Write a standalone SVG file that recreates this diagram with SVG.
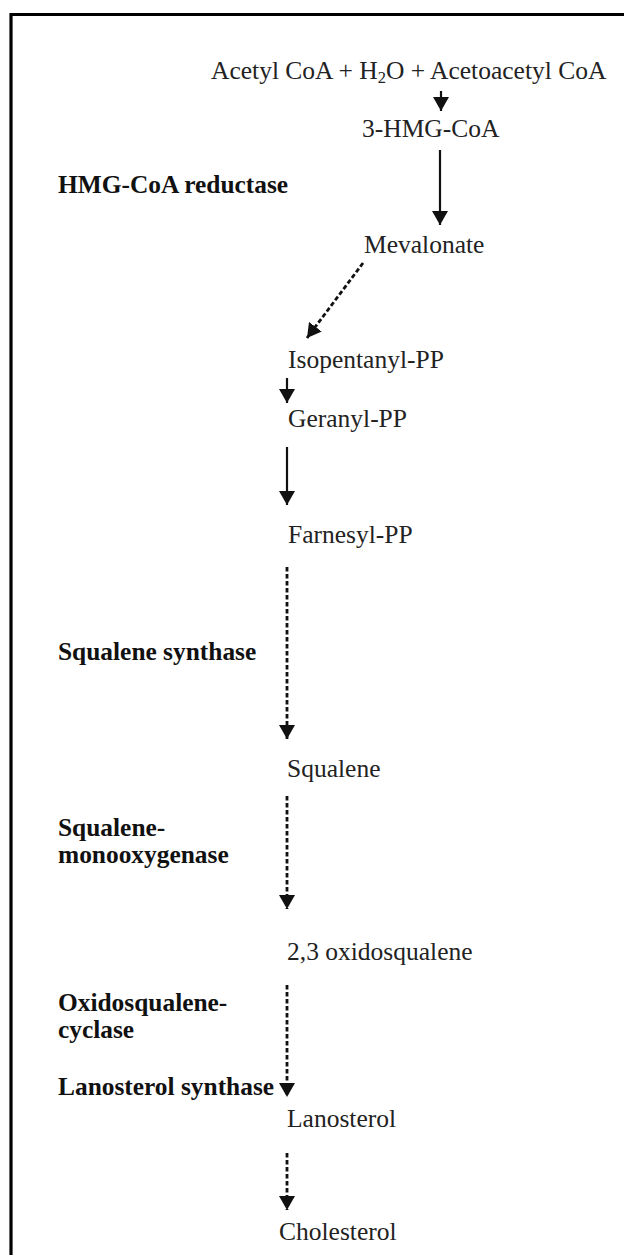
<svg xmlns="http://www.w3.org/2000/svg" width="624" height="1255" viewBox="0 0 624 1255">
<defs>
<style>
.t{font-family:"Liberation Serif","Times New Roman",serif;font-size:25.5px;fill:#222}
.b{font-family:"Liberation Serif","Times New Roman",serif;font-size:25.4px;font-weight:bold;fill:#111}
.s{stroke:#111;stroke-width:2.2;fill:none}
.d{stroke:#111;stroke-width:2.8;fill:none;stroke-dasharray:4.5 2.5}
</style>
<marker id="ah" viewBox="0 0 14 16" refX="14" refY="8" markerWidth="14" markerHeight="16" markerUnits="userSpaceOnUse" orient="auto">
<path d="M0,0 L14,8 L0,16 Z" fill="#111"/>
</marker>
</defs>
<rect x="0" y="0" width="624" height="1255" fill="#fff"/>
<path d="M11,1255 V14.5 H624" stroke="#000" stroke-width="3.2" fill="none"/>
<g id="acetyl"><text class="t" x="211" y="79">Acetyl CoA + H<tspan font-size="16.5" dy="4">2</tspan><tspan dy="-4">O + Acetoacetyl CoA</tspan></text></g>
<g id="hmgcoa"><text class="t" x="362" y="137">3-HMG-CoA</text></g>
<g id="hmgred"><text class="b" x="58" y="193">HMG-CoA reductase</text></g>
<g id="mevalonate"><text class="t" x="364" y="253">Mevalonate</text></g>
<g id="isopentanyl"><text class="t" x="288" y="368">Isopentanyl-PP</text></g>
<g id="geranyl"><text class="t" x="288" y="427">Geranyl-PP</text></g>
<g id="farnesyl"><text class="t" x="288" y="543">Farnesyl-PP</text></g>
<g id="sqsynth"><text class="b" x="58" y="660">Squalene synthase</text></g>
<g id="squalene"><text class="t" x="287" y="777">Squalene</text></g>
<g id="sqmono"><text class="b" x="58" y="836">Squalene-</text><text class="b" x="58" y="863">monooxygenase</text></g>
<g id="oxidosq"><text class="t" x="287" y="960">2,3 oxidosqualene</text></g>
<g id="oxcyc"><text class="b" x="58" y="1011">Oxidosqualene-</text><text class="b" x="58" y="1038">cyclase</text></g>
<g id="lansynth"><text class="b" x="58" y="1095">Lanosterol synthase</text></g>
<g id="lanosterol"><text class="t" x="287" y="1127">Lanosterol</text></g>
<g id="cholesterol"><text class="t" x="279" y="1240">Cholesterol</text></g>
<g id="connectors">
<path class="s" d="M441,91 V111" marker-end="url(#ah)"/>
<path class="s" d="M440,150 V225" marker-end="url(#ah)"/>
<path class="d" d="M363,263 L307,338" marker-end="url(#ah)"/>
<path class="s" d="M287,378 V403" marker-end="url(#ah)"/>
<path class="s" d="M287,447 V505" marker-end="url(#ah)"/>
<path class="d" d="M287,567 V739" marker-end="url(#ah)"/>
<path class="d" d="M287,796 V909" marker-end="url(#ah)"/>
<path class="d" d="M287,985 V1097" marker-end="url(#ah)"/>
<path class="d" d="M287,1153 V1210" marker-end="url(#ah)"/>
</g>
</svg>
